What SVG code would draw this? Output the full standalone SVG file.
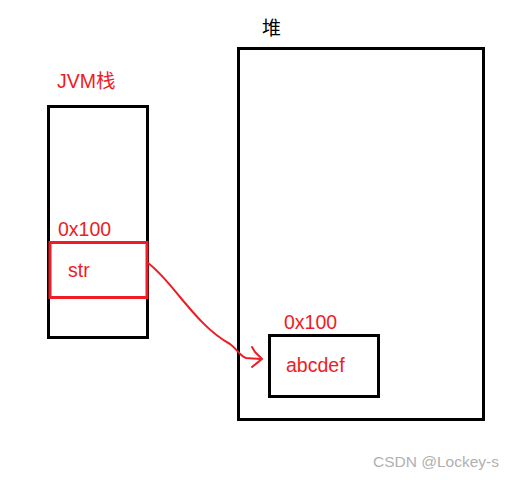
<svg xmlns="http://www.w3.org/2000/svg" width="516" height="480" viewBox="0 0 516 480">
<style>
.box{fill:none;stroke:#000;stroke-width:3}
.red{fill:#ee1c24;font-family:"Liberation Sans","Noto Sans CJK SC",sans-serif;font-size:19.5px}
.conn{fill:none;stroke:#ee1c24;stroke-width:2;stroke-linecap:round;stroke-linejoin:round}
</style>
<rect width="516" height="480" fill="#fff"/>
<g id="stack">
<rect class="box" x="48.5" y="106.5" width="99" height="231"/>
<text class="red" x="57" y="88">JVM栈</text>
</g>
<g id="str">
<rect x="50" y="242.5" width="97" height="55" fill="none" stroke="#ee1c24" stroke-width="3"/>
<text class="red" x="58" y="236">0x100</text>
<text class="red" x="68" y="277">str</text>
</g>
<g id="heap">
<rect class="box" x="238.5" y="48.5" width="245" height="371"/>
<text x="262" y="35" font-family="'Noto Sans CJK SC',sans-serif" font-size="19" fill="#000">堆</text>
</g>
<g id="obj">
<rect class="box" x="269.5" y="335.5" width="109" height="61"/>
<text class="red" x="284" y="329">0x100</text>
<text class="red" x="286" y="372">abcdef</text>
</g>
<g id="connectors">
<path class="conn" d="M148,263 C160,272 170,285 180,297 C195,315 210,333 230,344 C238,350 240,356 246,358 L260,359"/>
<path class="conn" d="M252,347 L255,352 L262,359 L252,367"/>
</g>
<text x="373" y="467" font-family="'Liberation Sans',sans-serif" font-size="15.5" fill="#b0b0b0">CSDN @Lockey-s</text>
</svg>
